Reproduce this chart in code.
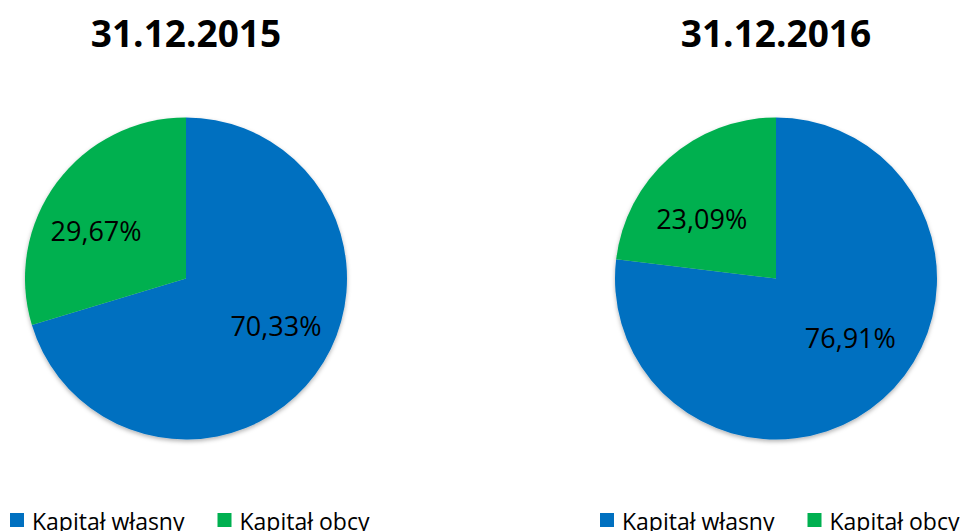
<!DOCTYPE html>
<html>
<head>
<meta charset="utf-8">
<script src="https://cdn.jsdelivr.net/npm/d3@7"></script>
<style>
  body { margin: 0; background: #fff; }
  svg { display: block; font-family: 'Open Sans', sans-serif; }
</style>
</head>
<body>
<div id="chart"></div>
<script>
// data
let dates = ['31.12.2015', '31.12.2016']
let categories = ['Kapitał własny', 'Kapitał obcy']
let shares2015 = [70.33, 29.67]
let shares2016 = [76.91, 23.09]
let colors = ['#0070C0', '#00B050']

let width = 964,
  height = 531,
  radius = 161,
  centerY = 278.5

let svg = d3
  .select('#chart')
  .append('svg')
  .attr('width', width)
  .attr('height', height)

// soft shadow under each pie
let defs = svg.append('defs')
defs
  .append('filter')
  .attr('id', 'shadow')
  .attr('x', '-20%')
  .attr('y', '-20%')
  .attr('width', '140%')
  .attr('height', '140%')
  .append('feDropShadow')
  .attr('dx', 0)
  .attr('dy', 2)
  .attr('stdDeviation', 2)
  .attr('flood-color', '#000')
  .attr('flood-opacity', 0.3)

// where each pie sits
let x = d3
  .scalePoint()
  .domain(dates)
  .range([186, 776])

let color = d3
  .scaleOrdinal()
  .domain(categories)
  .range(colors)

let pie = d3
  .pie()
  .sort(null)
  .value(function(d) {
    return d.value
  })

let arc = d3
  .arc()
  .innerRadius(0)
  .outerRadius(radius)

let fmt = function(v) {
  return v.toFixed(2).replace('.', ',') + '%'
}

let series = [shares2015, shares2016]

dates.forEach(function(date, i) {
  let cx = x(date)
  let rows = categories.map(function(c, j) {
    return {key: c, value: series[i][j]}
  })
  let arcs = pie(rows)

  // title
  svg
    .append('text')
    .attr('x', cx)
    .attr('y', 47)
    .attr('text-anchor', 'middle')
    .attr('font-weight', 'bold')
    .attr('font-size', 37)
    .attr('fill', '#000')
    .text(date)

  let g = svg
    .append('g')
    .attr('transform', 'translate(' + cx + ',' + centerY + ')')

  g.append('g')
    .attr('filter', 'url(#shadow)')
    .selectAll('path')
    .data(arcs)
    .enter()
    .append('path')
    .attr('d', arc)
    .attr('fill', function(d) {
      return color(d.data.key)
    })

  // labels: best-fit style, pushed a bit sideways like Excel does
  g.selectAll('text.lbl')
    .data(arcs)
    .enter()
    .append('text')
    .attr('class', 'lbl')
    .attr('x', function(d) {
      let a = (d.startAngle + d.endAngle) / 2
      return Math.sin(a) * 112
    })
    .attr('y', function(d) {
      let a = (d.startAngle + d.endAngle) / 2
      return -Math.cos(a) * 80 + 10
    })
    .attr('text-anchor', 'middle')
    .attr('font-size', 27)
    .attr('fill', '#000')
    .text(function(d) {
      return fmt(d.value)
    })

  // legend under the pie
  let legend = svg
    .append('g')
    .attr('transform', 'translate(' + (cx - 176) + ',513)')
  let offset = 0
  categories.forEach(function(c) {
    let item = legend.append('g').attr('transform', 'translate(' + offset + ',0)')
    item
      .append('rect')
      .attr('width', 14)
      .attr('height', 14)
      .attr('fill', color(c))
    let t = item
      .append('text')
      .attr('x', 22)
      .attr('y', 16.5)
      .attr('font-size', 23)
      .attr('fill', '#000')
      .text(c)
    offset += 22 + t.node().getComputedTextLength() + 33
  })
})
</script>
</body>
</html>
